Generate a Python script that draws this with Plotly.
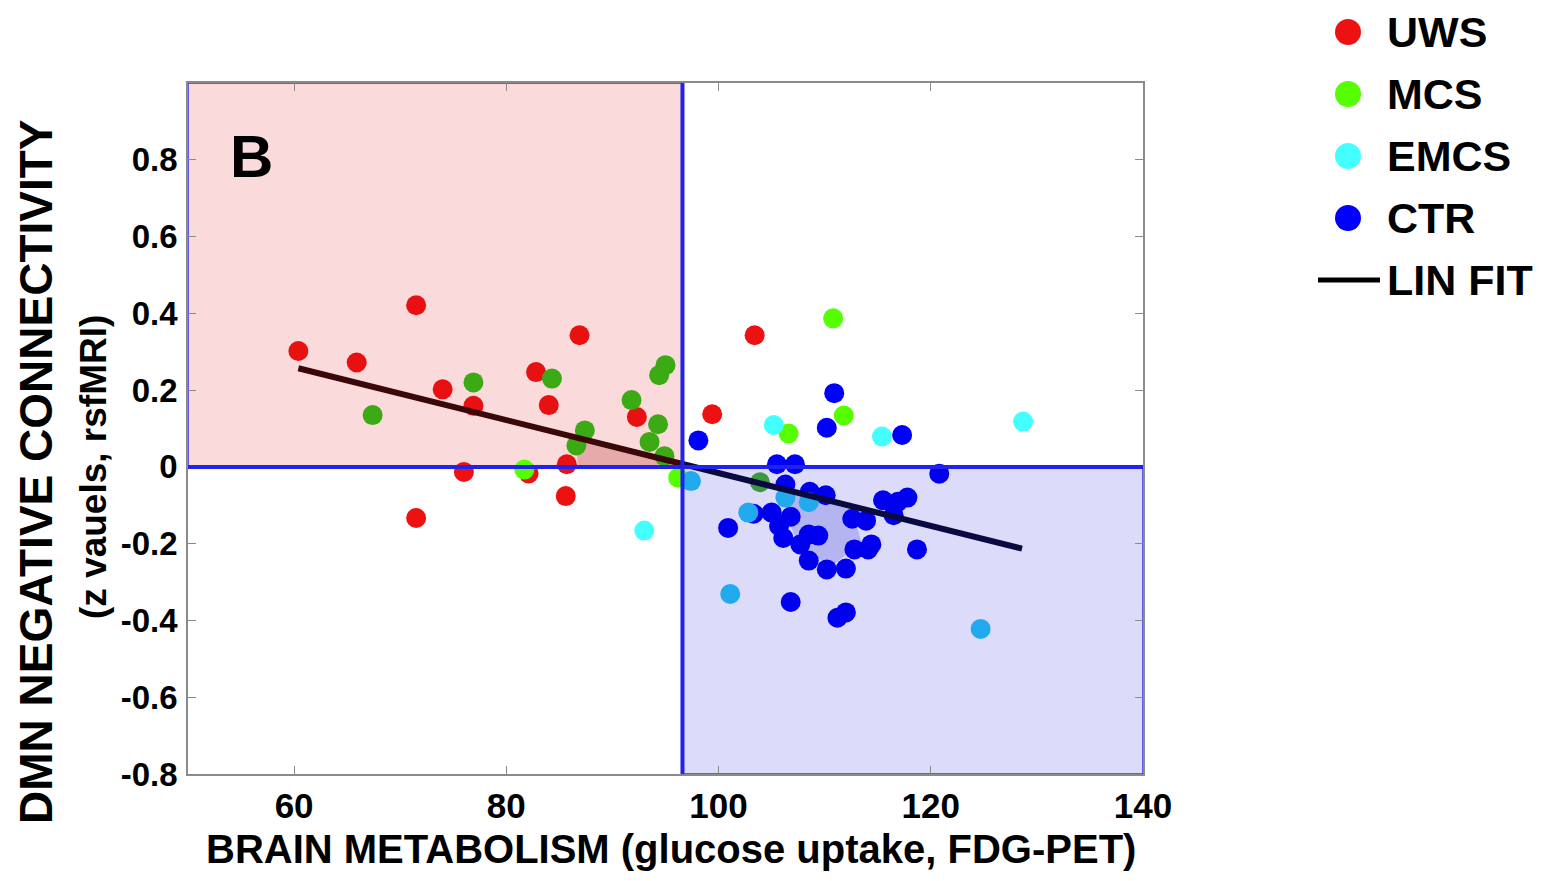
import numpy as np
import plotly.graph_objects as go

# ---------------- data ----------------
uws_x = [60.4, 65.9, 71.5, 74.0, 76.9, 82.8, 84.0, 86.9, 92.3, 85.7, 76.0, 82.1, 103.4, 99.4, 71.5, 85.6]
uws_y = [0.302, 0.272, 0.421, 0.202, 0.159, 0.247, 0.161, 0.343, 0.130, 0.007, -0.013, -0.017, 0.343, 0.137, -0.133, -0.076]

mcs_x = [76.9, 67.4, 84.3, 91.8, 94.4, 95.0, 94.3, 93.5, 87.4, 86.6, 94.9, 81.7, 96.2, 110.8, 111.8, 106.6, 103.9]
mcs_y = [0.220, 0.135, 0.230, 0.174, 0.239, 0.265, 0.111, 0.065, 0.095, 0.056, 0.028, -0.007, -0.028, 0.387, 0.134, 0.087, -0.040]

emcs_x = [93.0, 105.2, 115.4, 128.7, 97.4, 101.1, 124.7, 106.3, 108.5, 102.8]
emcs_y = [-0.166, 0.109, 0.079, 0.118, -0.037, -0.331, -0.422, -0.080, -0.092, -0.119]

ctr_x = [110.9, 110.2, 98.1, 117.3, 105.5, 107.2, 120.8, 106.3, 108.6, 110.1, 115.5, 116.9, 117.8,
         116.5, 103.3, 105.0, 106.8, 112.6, 113.9, 100.9, 105.7, 106.1, 107.7, 108.5, 109.4, 114.4,
         112.8, 114.1, 118.7, 108.5, 110.2, 112.0, 106.8, 111.2, 112.0]
ctr_y = [0.192, 0.102, 0.069, 0.083, 0.007, 0.007, -0.018, -0.046, -0.065, -0.074, -0.087, -0.091, -0.080,
         -0.126, -0.122, -0.119, -0.130, -0.135, -0.140, -0.159, -0.154, -0.185, -0.202, -0.176, -0.179, -0.202,
         -0.215, -0.215, -0.215, -0.244, -0.267, -0.265, -0.352, -0.393, -0.379]

fit_x = [60.4, 128.6]
fit_y = [0.257, -0.213]

split_x = 96.6          # metabolism threshold (vertical line)
split_y = 0.0           # connectivity threshold (horizontal line)

tri_x = [86.7, 96.6, 86.7]
tri_y = [0.073, 0.0, 0.0]

hull_x = [106.5, 112.5, 113.5, 110.5, 107.5, 106.3]
hull_y = [-0.07, -0.10, -0.20, -0.26, -0.20, -0.12]

x_ticks = [60, 80, 100, 120, 140]
y_ticks = [-0.8, -0.6, -0.4, -0.2, 0, 0.2, 0.4, 0.6, 0.8]
y_tick_text = ["-0.8", "-0.6", "-0.4", "-0.2", "0", "0.2", "0.4", "0.6", "0.8"]

groups = ["UWS", "MCS", "EMCS", "CTR"]

# ---------------- layout geometry (page pixels) ----------------
OFF = 8                          # page body margin
W, H = 1550, 865                 # figure size
PL, PT, PR, PB = 188, 83, 1143, 774   # target plot area on the page
L, T = PL - OFF, PT - OFF
R = W - (PR - OFF)
B = H - (PB - OFF)
XR = [50, 140]
YR = [-0.8, 1.0]

base_col = {"UWS": "#EE1111", "MCS": "#55FF00", "EMCS": "#44FFFF", "CTR": "#0000FF"}
pink_col = {"UWS": "#E81010", "MCS": "#3CAA14", "EMCS": "#3CC8C8", "CTR": "#0000EE"}
lav_col = {"UWS": "#C01050", "MCS": "#3C9A3C", "EMCS": "#22AAEE", "CTR": "#0000EE"}


def colours(g, xs, ys):
    out = []
    for x, y in zip(xs, ys):
        if x < split_x and y > split_y:
            out.append(pink_col[g])
        elif x > split_x and y < split_y:
            out.append(lav_col[g])
        else:
            out.append(base_col[g])
    return out


FONT = "Arial, Liberation Sans, sans-serif"
NARROW = "Liberation Sans Narrow, Arial Narrow, Arial, sans-serif"

fig = go.Figure()

# darker shaded regions
fig.add_trace(go.Scatter(x=tri_x, y=tri_y, fill="toself", mode="none",
                         fillcolor="#E6AAAA", showlegend=False, hoverinfo="skip"))
fig.add_trace(go.Scatter(x=hull_x, y=hull_y, fill="toself", mode="none",
                         fillcolor="#B4B4F0", showlegend=False, hoverinfo="skip"))

data = {"UWS": (uws_x, uws_y), "MCS": (mcs_x, mcs_y), "EMCS": (emcs_x, emcs_y), "CTR": (ctr_x, ctr_y)}
for g in ["UWS", "MCS", "CTR", "EMCS"]:
    xs, ys = data[g]
    fig.add_trace(go.Scatter(x=xs, y=ys, mode="markers", name=g, showlegend=False,
                             marker=dict(size=20, color=colours(g, xs, ys), line=dict(width=0))))

# linear fit split at the threshold for colour tint
ym = float(np.interp(split_x, fit_x, fit_y))
fig.add_trace(go.Scatter(x=[fit_x[0], split_x], y=[fit_y[0], ym], mode="lines",
                         line=dict(color="#3A0808", width=6), showlegend=False, hoverinfo="skip"))
fig.add_trace(go.Scatter(x=[split_x, fit_x[1]], y=[ym, fit_y[1]], mode="lines",
                         line=dict(color="#0A0A40", width=6), showlegend=False, hoverinfo="skip"))

# quadrant patches
fig.add_shape(type="rect", x0=XR[0], x1=split_x, y0=split_y, y1=YR[1], layer="below",
              fillcolor="#FADADA", line=dict(color="#3333EE", width=1.5))
fig.add_shape(type="rect", x0=split_x, x1=XR[1], y0=YR[0], y1=split_y, layer="below",
              fillcolor="#DCDCFA", line=dict(color="#3333EE", width=1.5))
# threshold lines
fig.add_shape(type="line", x0=split_x, x1=split_x, y0=YR[0], y1=YR[1], layer="above",
              line=dict(color="#2222EE", width=4))
fig.add_shape(type="line", x0=XR[0], x1=XR[1], y0=split_y, y1=split_y, layer="above",
              line=dict(color="#2222EE", width=4))

axis_common = dict(showgrid=False, zeroline=False, showline=True, linecolor="#8A8A8A", linewidth=1.5,
                   mirror="all", ticks="inside", ticklen=8, tickcolor="#8A8A8A", tickwidth=1)
fig.update_xaxes(range=XR, tickvals=x_ticks, ticktext=[str(v) for v in x_ticks], ticklabelstandoff=0,
                 tickfont=dict(family=FONT, size=35, color="black", weight="bold"), **axis_common)
fig.update_yaxes(range=YR, tickvals=y_ticks, ticktext=y_tick_text, ticklabelstandoff=2,
                 tickfont=dict(family=FONT, size=33, color="black", weight="bold"), **axis_common)

pw, ph = W - L - R, H - T - B


def px(xp):
    return (xp - OFF - L) / pw


def py(yp):
    return (H - B - (yp - OFF)) / ph


annotations = [
    dict(x=px(251), y=py(157), text="B", font=dict(family=FONT, size=60, color="black", weight="bold")),
    dict(x=px(671), y=py(849), text="BRAIN METABOLISM (glucose uptake, FDG-PET)",
         font=dict(family=NARROW, size=40, color="black", weight="bold")),
    dict(x=px(36), y=py(472), text="DMN NEGATIVE CONNECTIVITY", textangle=-90,
         font=dict(family=NARROW, size=46, color="black", weight="bold")),
    dict(x=px(94), y=py(467), text="(z vauels, rsfMRI)", textangle=-90,
         font=dict(family=NARROW, size=37, color="black", weight="bold")),
]
leg_rows = [32, 94, 156, 218]
for g, yr in zip(groups, leg_rows):
    annotations.append(dict(x=px(1385), y=py(yr), text=g, xanchor="left",
                            font=dict(family=FONT, size=43, color="black", weight="bold")))
    fig.add_shape(type="circle", xref="paper", yref="paper", xsizemode="pixel", ysizemode="pixel",
                  xanchor=px(1348), yanchor=py(yr), x0=-13, x1=13, y0=-13, y1=13,
                  fillcolor=base_col[g], line=dict(width=0))
annotations.append(dict(x=px(1385), y=py(280), text="LIN FIT", xanchor="left",
                        font=dict(family=FONT, size=43, color="black", weight="bold")))
fig.add_shape(type="line", xref="paper", yref="paper", x0=px(1318), x1=px(1380), y0=py(280), y1=py(280),
              line=dict(color="black", width=5))
for a in annotations:
    a.update(xref="paper", yref="paper", showarrow=False)
    a.setdefault("xanchor", "center")
    a.setdefault("yanchor", "middle")

fig.update_layout(width=W, height=H, margin=dict(l=L, r=R, t=T, b=B, pad=0),
                  paper_bgcolor="white", plot_bgcolor="white", showlegend=False,
                  annotations=annotations)

fig.write_html("out.html")
